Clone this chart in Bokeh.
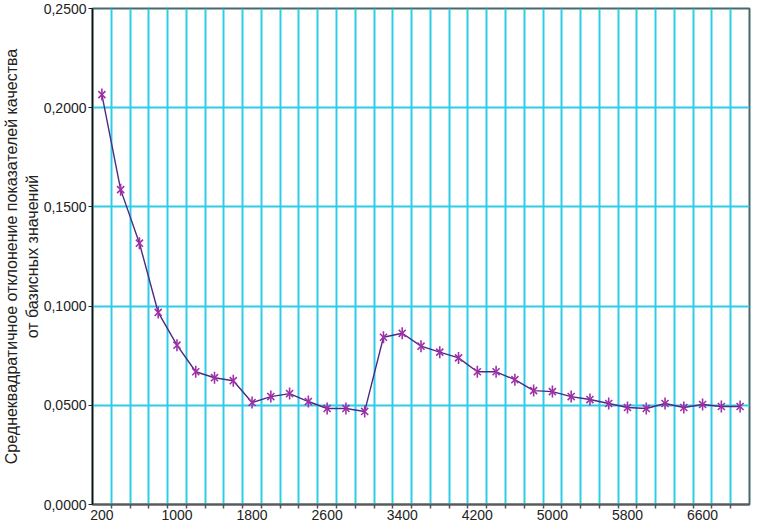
import math
from bokeh.plotting import figure
from bokeh.models import FixedTicker, ColumnDataSource
from bokeh.embed import file_html
from bokeh.resources import INLINE

# ---- data ----
sizes = [200, 400, 600, 800, 1000, 1200, 1400, 1600, 1800, 2000, 2200, 2400,
         2600, 2800, 3000, 3200, 3400, 3600, 3800, 4000, 4200, 4400, 4600, 4800,
         5000, 5200, 5400, 5600, 5800, 6000, 6200, 6400, 6600, 6800, 7000]
deviation = [0.2066, 0.1587, 0.1317, 0.0968, 0.0803, 0.0669, 0.0639, 0.0624,
             0.0514, 0.0544, 0.0559, 0.0519, 0.0484, 0.0484, 0.0469, 0.0843,
             0.0863, 0.0798, 0.0768, 0.0739, 0.0669, 0.0669, 0.0629, 0.0574,
             0.0569, 0.0544, 0.0529, 0.0509, 0.0489, 0.0484, 0.0509, 0.0489,
             0.0504, 0.0494, 0.0494]
x_tick_labels = ["200", "1000", "1800", "2600", "3400", "4200", "5000", "5800", "6600"]
y_ticks = [0.0, 0.05, 0.10, 0.15, 0.20, 0.25]
y_tick_labels = ["0,0000", "0,0500", "0,1000", "0,1500", "0,2000", "0,2500"]
y_title = "Среднеквадратичное отклонение показателей качества\nот базисных значений"

GRID = "#2ECCE6"
FONT = "Liberation Sans"

step = sizes[1] - sizes[0]
x_start = sizes[0] - step / 2
x_end = sizes[-1] + step / 2
boundaries = [(a + b) / 2 for a, b in zip(sizes, sizes[1:])]

p = figure(width=751, height=522, output_backend="svg", toolbar_location=None,
           x_range=(x_start, x_end), y_range=(0, 0.25),
           min_border_left=82, min_border_right=2, min_border_top=8,
           min_border_bottom=16)
p.background_fill_color = "white"
p.border_fill_color = "white"
p.outline_line_color = "#46696B"
p.outline_line_width = 2

src = ColumnDataSource(dict(x=sizes, y=deviation))
p.line("x", "y", source=src, line_color="#4E2A84", line_width=1.4)
p.scatter("x", "y", source=src, marker="x", size=10, line_color="#A030A8", line_width=1.6)
p.scatter("x", "y", source=src, marker="dash", angle=math.pi / 2, size=12,
          line_color="#A030A8", line_width=1.6)

xt = FixedTicker(ticks=[int(s) for s in x_tick_labels], minor_ticks=boundaries)
p.xaxis.ticker = xt
p.xaxis.major_label_overrides = {int(s): s for s in x_tick_labels}
p.xaxis.major_tick_line_color = None
p.xaxis.major_tick_out = 4
p.xaxis.major_tick_in = 0
p.xaxis.minor_tick_line_color = "#555555"
p.xaxis.minor_tick_line_width = 1.5
p.xaxis.minor_tick_out = 4
p.xaxis.minor_tick_in = 0
p.xaxis.axis_line_color = "#5A5A5A"
p.xaxis.axis_line_width = 2
p.xaxis.major_label_standoff = 1
p.xaxis.major_label_text_font = FONT
p.xaxis.major_label_text_font_size = "14px"
p.xaxis.major_label_text_color = "#222222"

p.xgrid.grid_line_color = None
p.xgrid.minor_grid_line_color = GRID
p.xgrid.minor_grid_line_width = 2

p.yaxis.ticker = FixedTicker(ticks=y_ticks)
p.yaxis.major_label_overrides = {t: l for t, l in zip(y_ticks, y_tick_labels)}
p.yaxis.minor_tick_line_color = None
p.yaxis.major_tick_out = 4
p.yaxis.major_tick_in = 0
p.yaxis.major_tick_line_color = "#222222"
p.yaxis.axis_line_color = "#111111"
p.yaxis.axis_line_width = 1.5
p.yaxis.major_label_standoff = 2
p.yaxis.major_label_text_font = FONT
p.yaxis.major_label_text_font_size = "14px"
p.yaxis.major_label_text_color = "#222222"
p.yaxis.axis_label = y_title
p.yaxis.axis_label_text_font = FONT
p.yaxis.axis_label_text_font_size = "16px"
p.yaxis.axis_label_text_font_style = "normal"
p.yaxis.axis_label_text_color = "#222222"
p.yaxis.axis_label_standoff = 0

p.ygrid.grid_line_color = GRID
p.ygrid.grid_line_width = 2

open("out.html", "w").write(file_html(p, INLINE))
